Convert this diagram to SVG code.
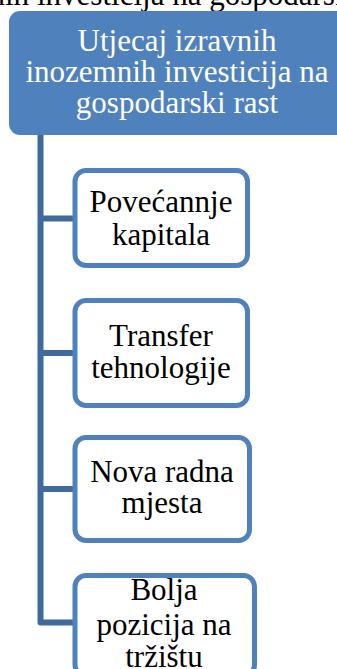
<svg xmlns="http://www.w3.org/2000/svg" width="337" height="669" viewBox="0 0 337 669">
<style>
.t{font-family:"Liberation Serif","Times New Roman",serif;font-size:31px;text-anchor:middle}
.w{fill:#ffffff}
.b{fill:#000000}
.child{fill:#ffffff;stroke:#4f81bd;stroke-width:5}
.conn{fill:none;stroke:#416a9c;stroke-width:6;stroke-linejoin:round}
</style>
<rect width="337" height="669" fill="#ffffff"/>
<text class="t b" x="37" y="5" style="text-anchor:start">investicija na gospodarski</text>
<text class="t b" x="29" y="5" style="text-anchor:end">inozemnih</text>
<g id="connectors">
<path class="conn" d="M40.5,135 V622.5 H73"/>
<path class="conn" d="M40.5,218.5 H73"/>
<path class="conn" d="M40.5,353 H73"/>
<path class="conn" d="M40.5,489 H73"/>
</g>
<g id="root">
<rect x="9" y="11" width="345" height="124" rx="11" fill="#4f81bd"/>
<text class="t w" x="177" y="51">Utjecaj izravnih</text>
<text class="t w" x="177" y="82">inozemnih investicija na</text>
<text class="t w" x="177" y="113">gospodarski rast</text>
</g>
<g id="n1">
<rect class="child" x="75" y="170.5" width="172.5" height="95" rx="11"/>
<text class="t b" x="161" y="212">Povećannje</text>
<text class="t b" x="161" y="245">kapitala</text>
</g>
<g id="n2">
<rect class="child" x="75" y="300.5" width="172.5" height="105" rx="11"/>
<text class="t b" x="161" y="346">Transfer</text>
<text class="t b" x="161" y="378">tehnologije</text>
</g>
<g id="n3">
<rect class="child" x="75" y="437.5" width="174.5" height="103" rx="11"/>
<text class="t b" x="162" y="482">Nova radna</text>
<text class="t b" x="162" y="513">mjesta</text>
</g>
<g id="n4">
<rect class="child" x="75" y="575.5" width="179.5" height="100" rx="11"/>
<text class="t b" x="164" y="600">Bolja</text>
<text class="t b" x="164" y="635">pozicija na</text>
<text class="t b" x="164" y="667">tržištu</text>
</g>
</svg>
